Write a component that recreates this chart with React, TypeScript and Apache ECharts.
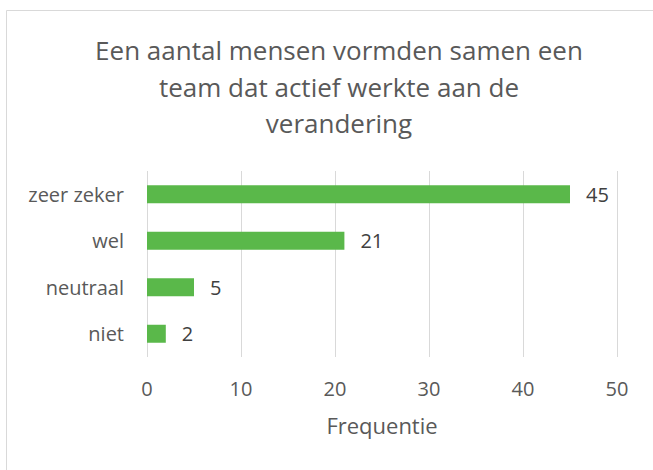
import React, { useEffect, useRef } from "react";
import * as echarts from "echarts";

const categories = ["zeer zeker", "wel", "neutraal", "niet"];
const values = [45, 21, 5, 2];
const titleLines = ["Een aantal mensen vormden samen een", "team dat actief werkte aan de", "verandering"];
const xAxisName = "Frequentie";

const FONT = "'Open Sans', sans-serif";

export default function App() {
  const ref = useRef<HTMLDivElement>(null);
  useEffect(() => {
    if (!ref.current) return;
    const chart = echarts.init(ref.current, undefined, { renderer: "svg" });
    chart.setOption({
      animation: false,
      backgroundColor: "#ffffff",
      title: {
        text: titleLines.join("\n"),
        left: 334,
        top: 27,
        textAlign: "center",
        textStyle: {
          fontFamily: FONT,
          fontSize: 26,
          lineHeight: 36.5,
          fontWeight: "normal",
          color: "#595959",
        },
      },
      graphic: [
        {
          type: "rect",
          shape: { x: 6.5, y: 10.5, width: 700, height: 500 },
          style: { fill: "none", stroke: "#d9d9d9", lineWidth: 1 },
          silent: true,
        },
      ],
      grid: { left: 147, right: 36, top: 171, bottom: 113, containLabel: false },
      xAxis: {
        type: "value",
        min: 0,
        max: 50,
        interval: 10,
        name: xAxisName,
        nameLocation: "middle",
        nameGap: 57,
        nameTextStyle: { fontFamily: FONT, fontSize: 22, color: "#595959" },
        axisLine: { show: false },
        axisTick: { show: false },
        axisLabel: { fontFamily: FONT, fontSize: 20, color: "#595959", margin: 21 },
        splitLine: { show: true, lineStyle: { color: "#d9d9d9", width: 1 } },
      },
      yAxis: {
        type: "category",
        data: categories,
        inverse: true,
        axisLine: { show: false },
        axisTick: { show: false },
        axisLabel: { fontFamily: FONT, fontSize: 20, color: "#595959", margin: 23 },
        splitLine: { show: false },
      },
      series: [
        {
          type: "bar",
          data: values,
          barWidth: 18,
          itemStyle: { color: "#5ab84a" },
          label: {
            show: true,
            position: "right",
            distance: 16,
            fontFamily: FONT,
            fontSize: 20,
            color: "#404040",
          },
        },
      ],
    });
    return () => chart.dispose();
  }, []);
  return (
    <div
      ref={ref}
      style={{ position: "absolute", left: 0, top: 0, width: 653, height: 470 }}
    />
  );
}
